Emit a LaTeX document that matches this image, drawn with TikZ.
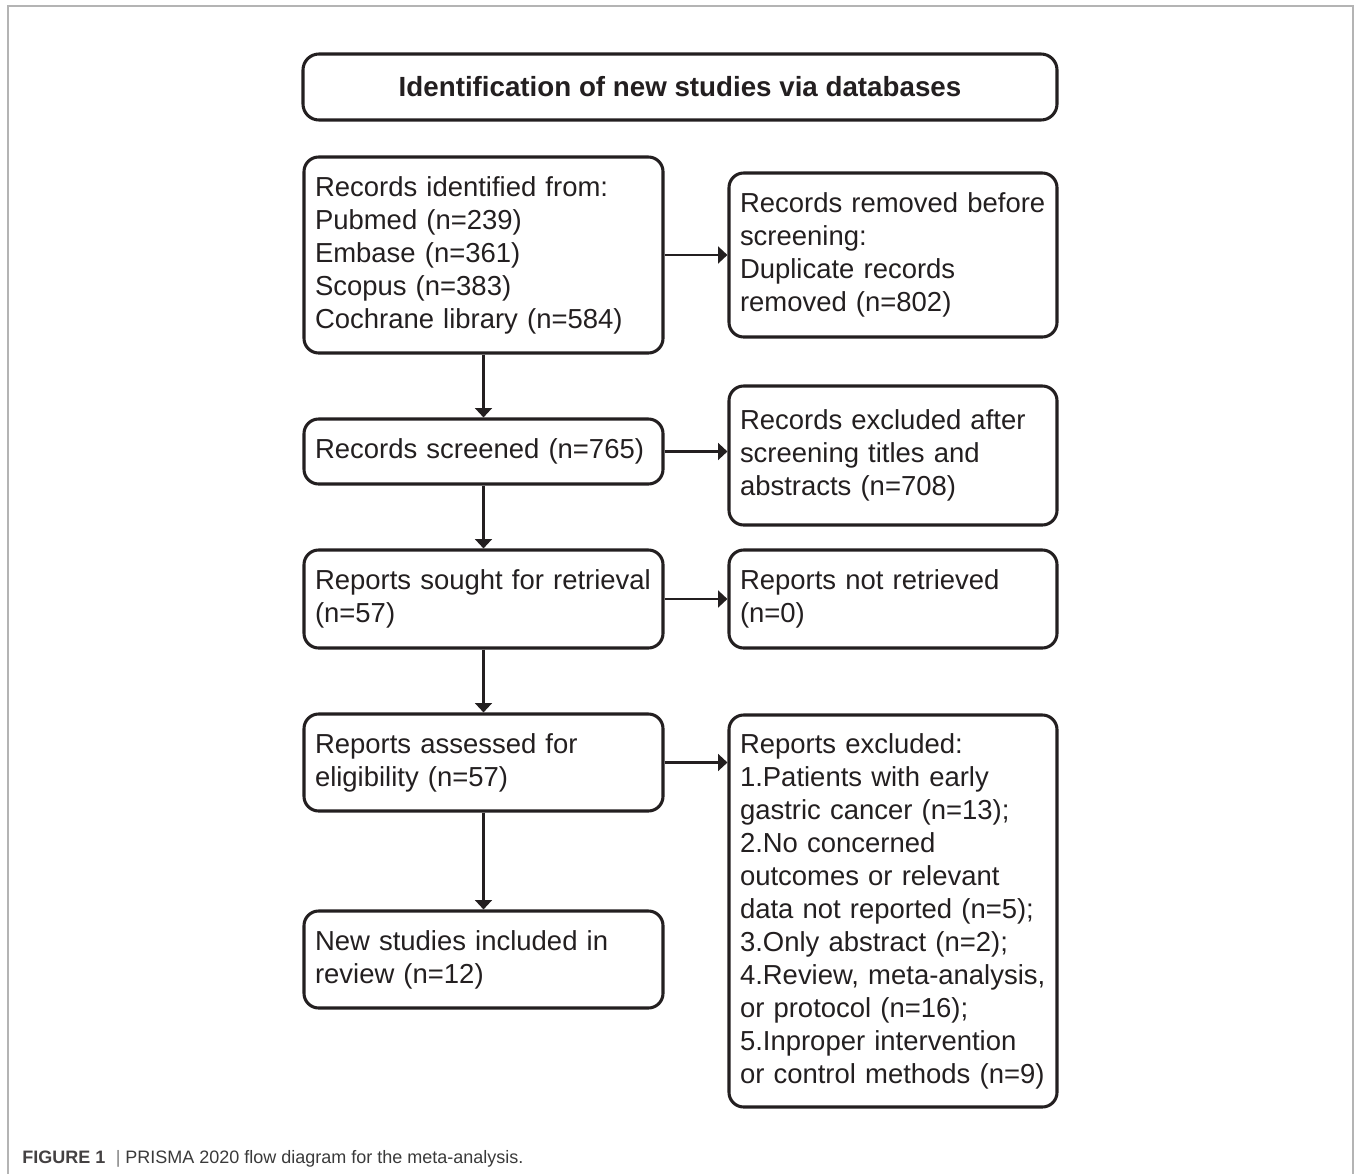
\documentclass[tikz,border=0pt]{standalone}
\usepackage{fontspec}
\setmainfont{Liberation Sans}
\usetikzlibrary{arrows.meta}
\definecolor{ink}{HTML}{231F20}
\definecolor{frame}{HTML}{B4B4B4}
\definecolor{captxt}{HTML}{3A3A3A}
\tikzset{
  boxbase/.style={draw=ink, line width=2.3pt, rounded corners=11pt, text=ink,
    inner xsep=8.25pt, inner ysep=0pt, align=left,
    font=\fontsize{20.6}{24.75}\selectfont},
  leftbox/.style={boxbase, minimum width=269.25pt, text width=252.75pt},
  rightbox/.style={boxbase, minimum width=246pt, text width=229.5pt},
  titlebox/.style={draw=ink, line width=2.3pt, rounded corners=12pt, text=ink,
    minimum width=565.5pt, minimum height=49.5pt, align=center,
    font=\fontsize{20.8}{24.75}\selectfont\bfseries},
  flow/.style={draw=ink, line width=2pt, -{Triangle[length=7pt,width=12.5pt]}},
}
\begin{document}
\begin{tikzpicture}[x=0.75pt,y=-0.75pt]
\useasboundingbox (0,0) rectangle (1354,1174);
\draw[frame, line width=1pt] (8,1174) -- (8,6) -- (1353,6) -- (1353,1174);

\node[titlebox] (title) at (680,87) {Identification of new studies via databases};

\node[leftbox, minimum height=147pt] (ident) at (483.5,255)
  {\mbox{Records identified from:}\\\mbox{Pubmed (n=239)}\\\mbox{Embase (n=361)}\\\mbox{Scopus (n=383)}\\\mbox{Cochrane library (n=584)}};
\node[leftbox, minimum height=48.75pt] (screen) at (483.5,451.5)
  {\mbox{Records screened (n=765)}};
\node[leftbox, minimum height=73.5pt] (sought) at (483.5,599)
  {\mbox{Reports sought for retrieval}\\\mbox{(n=57)}};
\node[leftbox, minimum height=72.75pt] (assess) at (483.5,762.5)
  {\mbox{Reports assessed for}\\\mbox{eligibility (n=57)}};
\node[leftbox, minimum height=72.75pt] (incl) at (483.5,959.5)
  {\mbox{New studies included in}\\\mbox{review (n=12)}};

\node[rightbox, minimum height=123pt] (removed) at (893,255)
  {\mbox{Records removed before}\\\mbox{screening:}\\\mbox{Duplicate records}\\\mbox{removed (n=802)}};
\node[rightbox, minimum height=104.25pt] (exclA) at (893,455.5)
  {\mbox{Records excluded after}\\\mbox{screening titles and}\\\mbox{abstracts (n=708)}};
\node[rightbox, minimum height=73.5pt] (notret) at (893,599)
  {\mbox{Reports not retrieved}\\\mbox{(n=0)}};
\node[rightbox, minimum height=294pt] (exclB) at (893,911)
  {\mbox{Reports excluded:}\\\mbox{1.Patients with early}\\\mbox{gastric cancer (n=13);}\\\mbox{2.No concerned}\\\mbox{outcomes or relevant}\\\mbox{data not reported (n=5);}\\\mbox{3.Only abstract (n=2);}\\\mbox{4.Review, meta-analysis,}\\\mbox{or protocol (n=16);}\\\mbox{5.Inproper intervention}\\\mbox{or control methods (n=9)}};

\draw[flow] (ident.south) -- (screen.north);
\draw[flow] (screen.south) -- (sought.north);
\draw[flow] (sought.south) -- (assess.north);
\draw[flow] (assess.south) -- (incl.north);

\draw[flow] (ident.east) -- (ident.east -| removed.west);
\draw[flow] (screen.east) -- (screen.east -| exclA.west);
\draw[flow] (sought.east) -- (sought.east -| notret.west);
\draw[flow] (assess.east) -- (assess.east -| exclB.west);

\node[anchor=base west, inner sep=0pt, text=captxt, font=\fontsize{13.5}{16}\selectfont] (caption) at (22,1163)
  {{\bfseries\color{ink!85}FIGURE 1}\hspace*{8pt}{\color{gray}|}\hspace*{3.5pt}PRISMA 2020 flow diagram for the meta-analysis.};
\end{tikzpicture}
\end{document}
